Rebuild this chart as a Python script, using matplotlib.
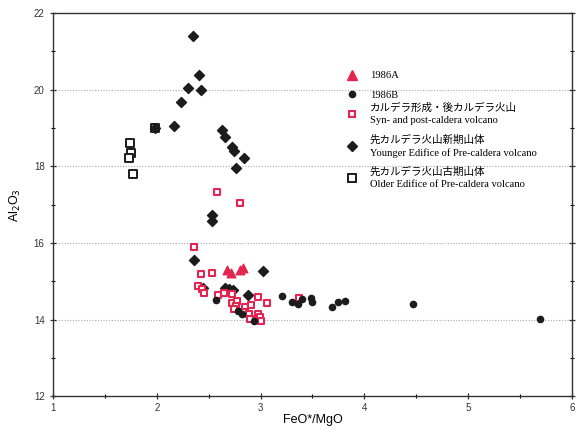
import matplotlib
matplotlib.use("Agg")
import matplotlib.pyplot as plt
from matplotlib.lines import Line2D

# ---- data (FeO*/MgO, Al2O3) ----
a1986_x = [2.676, 2.715, 2.801, 2.830]
a1986_y = [15.31, 15.21, 15.31, 15.36]

b1986_x = [2.570, 2.782, 2.821, 2.936, 3.206, 3.303, 3.360, 3.399, 3.486, 3.495,
           3.688, 3.746, 3.813, 4.468, 5.692]
b1986_y = [14.51, 14.24, 14.16, 13.96, 14.61, 14.45, 14.40, 14.53, 14.56, 14.45,
           14.32, 14.45, 14.48, 14.40, 14.02]

syn_x = [2.580, 2.801, 2.358, 2.426, 2.532, 2.397, 2.435, 2.455, 2.590, 2.647,
         2.724, 2.724, 2.773, 2.763, 2.850, 2.908, 2.975, 3.062, 2.840, 2.888,
         2.898, 2.975, 2.994, 3.004, 3.370, 2.745]
syn_y = [17.32, 17.04, 15.89, 15.19, 15.22, 14.87, 14.79, 14.69, 14.64, 14.69,
         14.66, 14.43, 14.48, 14.35, 14.33, 14.38, 14.59, 14.43, 14.19, 14.16,
         14.01, 14.16, 14.06, 13.98, 14.56, 14.27]

young_x = [2.349, 2.407, 2.301, 2.426, 2.233, 1.983, 2.166, 2.628, 2.657, 2.724,
           2.744, 2.840, 2.763, 2.532, 2.532, 2.358, 3.023, 2.657, 2.696, 2.734,
           2.879, 2.445]
young_y = [21.41, 20.37, 20.03, 19.99, 19.69, 18.99, 19.04, 18.94, 18.77, 18.51,
           18.41, 18.23, 17.96, 16.73, 16.58, 15.55, 15.27, 14.83, 14.80, 14.78,
           14.65, 14.84]

old_x = [1.742, 1.751, 1.732, 1.771, 1.983]
old_y = [18.60, 18.34, 18.23, 17.79, 18.99]

labels = [
    "1986A",
    "1986B",
    "カルデラ形成・後カルデラ火山\nSyn- and post-caldera volcano",
    "先カルデラ火山新期山体\nYounger Edifice of Pre-caldera volcano",
    "先カルデラ火山古期山体\nOlder Edifice of Pre-caldera volcano",
]

RED = "#e2264f"
BLK = "#1c1c1c"

plt.rcParams["font.family"] = ["Liberation Sans", "DejaVu Sans"]
fig = plt.figure(figsize=(5.76, 4.30), dpi=100)
ax = fig.add_axes([0.092, 0.078, 0.901, 0.892])

ax.set_xlim(1, 6)
ax.set_ylim(12, 22)

for g in [14, 16, 18, 20]:
    ax.axhline(g, color="#aaaaaa", lw=0.8, ls=(0, (1, 1.5)), zorder=0)

ax.scatter(old_x, old_y, marker="s", s=28, facecolor="white", edgecolor=BLK, linewidth=1.4, zorder=3)
ax.scatter(young_x, young_y, marker="D", s=26, color=BLK, zorder=4)
ax.scatter(syn_x, syn_y, marker="s", s=24, facecolor="white", edgecolor=RED, linewidth=1.5, zorder=5)
ax.scatter(b1986_x, b1986_y, marker="o", s=20, color=BLK, zorder=6)
ax.scatter(a1986_x, a1986_y, marker="^", s=38, color=RED, zorder=7)

ax.set_xticks([1, 2, 3, 4, 5, 6])
ax.set_xticks([1.5, 2.5, 3.5, 4.5, 5.5], minor=True)
ax.set_yticks([12, 14, 16, 18, 20, 22])
ax.set_yticks([13, 15, 17, 19, 21], minor=True)
ax.tick_params(axis="both", which="major", direction="inout", length=5, width=0.9,
               labelsize=7, colors="#333333", right=True)
ax.tick_params(axis="both", which="minor", direction="inout", length=3, width=0.8, right=True)
ax.tick_params(axis="y", which="both", labelright=False)
ax.tick_params(axis="x", pad=2)
for sp in ax.spines.values():
    sp.set_linewidth(1.0)
    sp.set_color("#333333")

ax.set_xlabel("FeO*/MgO", fontsize=9, labelpad=1)
ax.set_ylabel("Al$_2$O$_3$", fontsize=9, labelpad=8)

handles = [
    Line2D([], [], ls="none", marker="^", ms=6.5, color=RED),
    Line2D([], [], ls="none", marker="o", ms=4.5, color=BLK),
    Line2D([], [], ls="none", marker="s", ms=4.5, mfc="white", mec=RED, mew=1.5),
    Line2D([], [], ls="none", marker="D", ms=5, color=BLK),
    Line2D([], [], ls="none", marker="s", ms=5.5, mfc="white", mec=BLK, mew=1.4),
]
prop = {"family": ["Liberation Serif", "Noto Sans CJK JP"], "size": 7.6}
common = dict(loc="upper left", frameon=False, borderpad=0, borderaxespad=0,
              handlelength=1.0, handletextpad=1.2, prop=prop)
leg1 = ax.legend(handles[:2], labels[:2], bbox_to_anchor=(0.566, 0.849),
                 labelspacing=0.98, **common)
ax.add_artist(leg1)
leg2 = ax.legend(handles[2:], labels[2:], bbox_to_anchor=(0.566, 0.766),
                 labelspacing=0.82, **common)
for t in leg2.get_texts():
    t.set_linespacing(1.48)

fig.savefig("out.png", dpi=100)
